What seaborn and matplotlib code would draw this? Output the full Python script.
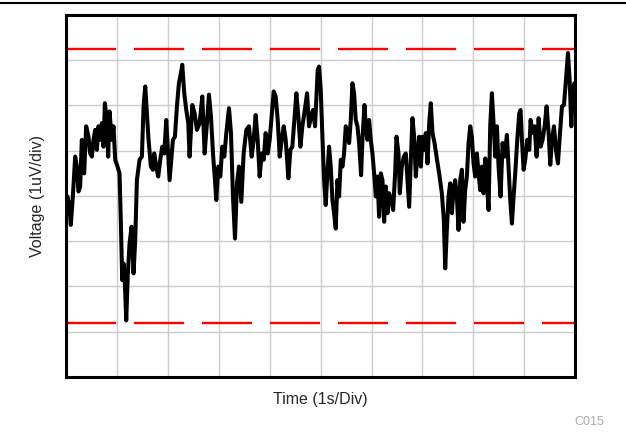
import numpy as np
import pandas as pd
import matplotlib
matplotlib.use("Agg")
import matplotlib.pyplot as plt
from matplotlib.lines import Line2D
import seaborn as sns

# noise trace, time in s, voltage in uV (1 uV/div)
time_s = [
    0.020, 0.059, 0.085, 0.125, 0.171, 0.203, 0.236, 0.269, 0.302, 0.348,
    0.387, 0.433, 0.466, 0.499, 0.531, 0.564, 0.597, 0.630, 0.663, 0.696,
    0.728, 0.755, 0.794, 0.820, 0.846, 0.892, 0.925, 0.958, 1.004, 1.043,
    1.070, 1.096, 1.122, 1.148, 1.175, 1.207, 1.240, 1.280, 1.319, 1.352,
    1.385, 1.437, 1.483, 1.516, 1.549, 1.581, 1.614, 1.660, 1.700, 1.726,
    1.765, 1.804, 1.844, 1.883, 1.923, 1.962, 2.001, 2.028, 2.060, 2.093,
    2.133, 2.172, 2.211, 2.251, 2.277, 2.316, 2.356, 2.395, 2.421, 2.474,
    2.520, 2.566, 2.618, 2.671, 2.717, 2.762, 2.802, 2.841, 2.881, 2.920,
    2.946, 2.986, 3.025, 3.064, 3.104, 3.143, 3.196, 3.235, 3.274, 3.314,
    3.353, 3.392, 3.438, 3.484, 3.537, 3.589, 3.642, 3.681, 3.720, 3.760,
    3.799, 3.839, 3.878, 3.917, 3.957, 3.996, 4.035, 4.075, 4.114, 4.154,
    4.193, 4.232, 4.272, 4.311, 4.364, 4.403, 4.442, 4.482, 4.521, 4.560,
    4.600, 4.639, 4.678, 4.731, 4.770, 4.810, 4.849, 4.888, 4.941, 4.967,
    5.000, 5.033, 5.066, 5.098, 5.131, 5.164, 5.197, 5.230, 5.262, 5.295,
    5.328, 5.361, 5.394, 5.427, 5.459, 5.492, 5.525, 5.558, 5.591, 5.623,
    5.656, 5.689, 5.722, 5.755, 5.794, 5.820, 5.860, 5.886, 5.919, 5.951,
    5.984, 6.017, 6.050, 6.083, 6.115, 6.148, 6.181, 6.214, 6.247, 6.280,
    6.312, 6.345, 6.385, 6.424, 6.463, 6.490, 6.529, 6.555, 6.594, 6.634,
    6.673, 6.706, 6.739, 6.772, 6.804, 6.837, 6.870, 6.903, 6.936, 6.969,
    7.001, 7.034, 7.067, 7.100, 7.133, 7.165, 7.198, 7.238, 7.277, 7.329,
    7.382, 7.421, 7.448, 7.480, 7.513, 7.546, 7.579, 7.612, 7.644, 7.677,
    7.710, 7.743, 7.776, 7.808, 7.841, 7.874, 7.907, 7.940, 7.972, 8.005,
    8.038, 8.071, 8.104, 8.136, 8.169, 8.202, 8.235, 8.268, 8.301, 8.333,
    8.366, 8.399, 8.432, 8.465, 8.497, 8.537, 8.576, 8.615, 8.661, 8.694,
    8.727, 8.760, 8.793, 8.825, 8.865, 8.904, 8.930, 8.957, 8.990, 9.022,
    9.062, 9.101, 9.127, 9.167, 9.206, 9.245, 9.285, 9.324, 9.363, 9.403,
    9.442, 9.482, 9.514, 9.547, 9.587, 9.626, 9.665, 9.705, 9.744, 9.783,
    9.823, 9.862, 9.895, 9.928, 9.961, 9.987,
]
voltage_uv = [
    -0.01, -0.24, -0.64, -0.01, 0.87, 0.65, 0.10, 0.21, 1.24, 0.50,
    1.54, 1.31, 0.94, 0.87, 1.24, 1.46, 1.02, 1.54, 1.24, 1.61,
    1.09, 2.05, 1.61, 0.87, 1.87, 1.24, 1.54, 0.80, 0.65, 0.50,
    -0.61, -1.86, -1.49, -1.93, -2.75, -1.71, -1.05, -0.68, -1.71, -0.97,
    0.35, 0.80, 0.87, 1.98, 2.42, 1.83, 1.24, 0.65, 0.58, 0.94,
    0.65, 0.43, 0.80, 1.09, 0.94, 1.68, 0.87, 0.35, 0.80, 1.24,
    1.31, 1.98, 2.49, 2.72, 2.90, 2.27, 1.90, 1.61, 0.87, 2.01,
    1.83, 1.46, 1.61, 2.20, 0.94, 1.61, 2.24, 1.76, 0.94, 0.35,
    -0.09, 0.65, 0.43, 1.09, 0.87, 1.39, 1.94, 1.39, -0.01, -0.94,
    0.28, 0.65, -0.13, 0.94, 1.46, 1.54, 0.87, 1.24, 1.79, 1.24,
    0.43, 0.94, 0.80, 1.39, 0.94, 1.24, 1.76, 2.31, 2.20, 1.68,
    0.87, 1.24, 1.54, 1.24, 0.39, 1.02, 1.09, 1.68, 2.27, 1.76,
    1.09, 1.54, 1.83, 2.27, 1.54, 1.76, 1.90, 1.54, 2.79, 2.86,
    2.35, 1.31, 0.35, -0.20, 0.50, 1.09, 0.65, -0.09, -0.38, -0.72,
    0.35, -0.01, 0.80, 0.65, 0.94, 1.54, 1.39, 1.17, 1.68, 2.49,
    2.27, 1.68, 1.54, 1.17, 0.46, 1.24, 2.01, 1.54, 1.24, 1.68,
    1.24, 0.94, 0.50, -0.01, 0.43, -0.46, 0.50, 0.35, -0.57, 0.21,
    -0.38, 0.06, -0.09, -0.31, 0.50, 1.31, 0.94, 0.06, 0.65, 0.87,
    0.94, 0.35, -0.24, 0.80, 1.72, 1.31, 0.43, 0.94, 1.31, 0.65,
    1.31, 1.02, 1.39, 0.72, 1.61, 2.05, 1.39, 1.17, 0.87, 0.50,
    0.06, -0.53, -1.60, -0.75, -0.01, 0.28, -0.38, 0.13, 0.35, -0.01,
    -0.75, 0.35, 0.58, -0.57, 0.13, 0.43, 1.17, 1.54, 1.31, 0.72,
    0.43, 0.94, 0.50, 0.13, 0.65, 0.06, 0.83, 0.28, -0.31, 1.54,
    2.27, 1.61, 0.87, 1.54, 0.65, -0.01, 1.17, 0.87, 1.35, 0.65,
    -0.09, -0.61, -0.01, 0.50, 1.24, 1.83, 1.90, 1.24, 0.58, 0.80,
    1.24, 1.02, 1.68, 1.39, 1.54, 0.87, 1.72, 1.09, 1.24, 1.54,
    1.98, 1.39, 0.69, 1.24, 1.54, 1.02, 0.72, 1.39, 1.98, 2.01,
    2.57, 3.16, 2.57, 1.54, 2.35, 2.49,
]

# peak-to-peak markers
peak_high = 3.24
peak_low = -2.80

df = pd.DataFrame({"Time": time_s, "Voltage": voltage_uv})

sns.set_style("white")
plt.rcParams["font.family"] = ["Liberation Sans", "DejaVu Sans"]

fig = plt.figure(figsize=(6.26, 4.38), dpi=100)
ax = fig.add_axes([0.1062, 0.1393, 0.8123, 0.8265])

sns.lineplot(data=df, x="Time", y="Voltage", ax=ax, color="black",
             linewidth=2.9, estimator=None, sort=False, zorder=3,
             solid_joinstyle="round", solid_capstyle="round")

for level in (peak_high, peak_low):
    ax.axhline(level, color="#ff0000", linewidth=1.7, dashes=(21.2, 7.6), zorder=2)

ax.set_xlim(0, 10)
ax.set_ylim(-4, 4)
ax.set_xticks(np.arange(0, 11, 1))
ax.set_yticks(np.arange(-4, 5, 1))
ax.set_xticklabels([])
ax.set_yticklabels([])
ax.tick_params(length=0)
ax.grid(True, color="#cccccc", linewidth=1)
ax.set_axisbelow(True)
for s in ax.spines.values():
    s.set_color("black")
    s.set_linewidth(2.2)

ax.set_xlabel("Time (1s/Div)", fontsize=11.5, labelpad=7)
ax.set_ylabel("Voltage (1uV/div)", fontsize=11.5, labelpad=12)

fig.add_artist(Line2D([0, 1], [1 - 3 / 438, 1 - 3 / 438], color="black", linewidth=1.5))
fig.text(0.965, 0.022, "C015", fontsize=9, color="#aaaaaa", ha="right", va="bottom")

fig.savefig("out.png", dpi=100)
